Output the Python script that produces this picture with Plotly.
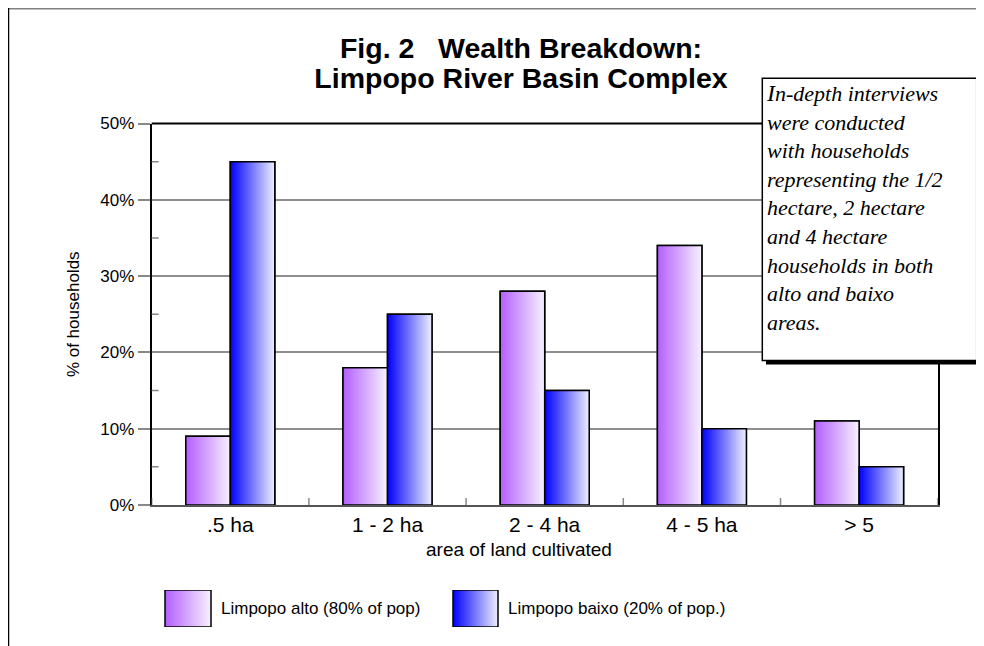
import plotly.graph_objects as go

# ---- data ----
categories = [".5 ha", "1 - 2 ha", "2 - 4 ha", "4 - 5 ha", "> 5"]
alto = [9, 18, 28, 34, 11]       # Limpopo alto (80% of pop)
baixo = [45, 25, 15, 10, 5]      # Limpopo baixo (20% of pop.)
series_names = ["Limpopo alto (80% of pop)", "Limpopo baixo (20% of pop.)"]
y_ticks = [0, 10, 20, 30, 40, 50]
y_ticktext = ["0%", "10%", "20%", "30%", "40%", "50%"]
y_minor = [5, 15, 25, 35, 45]
x_title = "area of land cultivated"
y_title = "% of households"
note_lines = ["In-depth interviews", "were conducted", "with households",
              "representing the 1/2", "hectare, 2 hectare", "and 4 hectare",
              "households in both", "alto and baixo", "areas."]

# ---- styling ----
OFF = 8                                   # page body offset of the plot div
W, H = 984 - OFF, 646 - OFF
PL, PR, PT, PB = 151.7, 937.7, 123.5, 505   # plot area (screen pixels)
BW = 0.283                                # bar width in category units
grad_alto = [[0, "#b35eff"], [1, "#f7f2ff"]]
grad_baixo = [[0, "#0000ff"], [1, "#eef0ff"]]
mid_alto = "#d6b0ff"
mid_baixo = "#8080ff"
SANS = "Liberation Sans, Arial, sans-serif"
SERIF = "Liberation Serif, Times New Roman, serif"


def px(x):
    return (x - OFF) / W


def py(y):
    return 1 - (y - OFF) / H


xs = list(range(len(categories)))
fig = go.Figure()

# bars (base)
fig.add_trace(go.Bar(x=xs, y=alto, width=BW, offset=-BW, name=series_names[0],
                     marker=dict(color=mid_alto, line=dict(color="black", width=1.5)),
                     showlegend=False))
fig.add_trace(go.Bar(x=xs, y=baixo, width=BW, offset=0, name=series_names[1],
                     marker=dict(color=mid_baixo, line=dict(color="black", width=1.5)),
                     showlegend=False))


# gradient overlay for each bar
def grad_bar(x0, x1, v, grad, name, xa="x", ya="y"):
    fig.add_trace(go.Scatter(
        x=[x0, x0, x1, x1, x0], y=[0, v, v, 0, 0], xaxis=xa, yaxis=ya,
        mode="lines", fill="toself",
        fillgradient=dict(type="horizontal", colorscale=grad),
        line=dict(color="black", width=1.5),
        name=name, showlegend=False, hoverinfo="skip"))


for i, v in zip(xs, alto):
    grad_bar(i - BW, i, v, grad_alto, series_names[0])
for i, v in zip(xs, baixo):
    grad_bar(i, i + BW, v, grad_baixo, series_names[1])

# custom legend swatches on a helper axis (screen pixel units)
grad_bar(165, 211, 1, grad_alto, series_names[0], "x2", "y2")
grad_bar(453, 498, 1, grad_baixo, series_names[1], "x2", "y2")

fig.update_layout(
    width=W, height=H,
    margin=dict(l=0, r=0, t=0, b=0),
    paper_bgcolor="white", plot_bgcolor="white",
    barmode="overlay",
    showlegend=False,
    font=dict(family=SANS, color="black"),
    title=dict(text="<b><span style='font-size:28.5px'>Fig. 2   Wealth Breakdown:</span><br>"
                    "<span style='font-size:28.5px'>Limpopo River Basin Complex</span></b>",
               x=px(521), xanchor="center", xref="container",
               y=py(58), yanchor="top", yref="container",
               font=dict(size=23, family=SANS, color="black")),
    xaxis=dict(domain=[px(PL), px(PR)], range=[-0.5, len(categories) - 0.5],
               tickmode="array", tickvals=xs, ticktext=categories,
               ticks="", tickfont=dict(size=21),
               showline=True, linecolor="#555555", linewidth=2,
               showgrid=False, zeroline=False, automargin=False),
    yaxis=dict(domain=[py(PB), py(PT)], range=[0, 50],
               tickmode="array", tickvals=y_ticks, ticktext=y_ticktext,
               ticks="outside", ticklen=12, tickcolor="#888888", tickwidth=1.5,
               tickfont=dict(size=17),
               showline=True, linecolor="black", linewidth=2, mirror=True,
               showgrid=True, gridcolor="#8f8f8f", gridwidth=1.5,
               zeroline=False, automargin=False,
               title=dict(text=y_title, font=dict(size=17), standoff=16)),
    xaxis2=dict(domain=[0, 1], range=[OFF, OFF + W], visible=False, anchor="y2",
                fixedrange=True),
    yaxis2=dict(domain=[py(627), py(590)], range=[0, 1], visible=False,
                anchor="x2", fixedrange=True),
)

shapes = []
# page frame (top gray rule, left black rule)
shapes.append(dict(type="line", xref="paper", yref="paper", x0=0, x1=1,
                   y0=1, y1=1, line=dict(color="#808080", width=3)))
shapes.append(dict(type="line", xref="paper", yref="paper", x0=0, x1=0,
                   y0=1, y1=0, line=dict(color="black", width=2.5)))
# plot top border
shapes.append(dict(type="line", xref="x domain", yref="y domain", x0=0, x1=1,
                   y0=1, y1=1, line=dict(color="black", width=2)))
# category boundary ticks crossing the x axis
for b in [i - 0.5 for i in range(len(categories) + 1)]:
    shapes.append(dict(type="line", xref="x", yref="y", ysizemode="pixel", yanchor=0,
                       x0=b, x1=b, y0=-6, y1=7,
                       line=dict(color="#888888", width=1.5)))
# minor y ticks crossing the y axis
for m in y_minor:
    shapes.append(dict(type="line", xref="x", yref="y", xsizemode="pixel", xanchor=-0.5,
                       x0=-8, x1=7, y0=m, y1=m,
                       line=dict(color="#888888", width=1.5)))
# note box with shadow
shapes.append(dict(type="rect", xref="paper", yref="paper", layer="above",
                   x0=px(766), x1=px(980.5), y0=py(82), y1=py(364.5),
                   fillcolor="black", line=dict(width=0)))
shapes.append(dict(type="rect", xref="paper", yref="paper", layer="above",
                   x0=px(762.3), x1=px(976.7), y0=py(78.3), y1=py(360.5),
                   fillcolor="white", line=dict(color="black", width=1.5)))
fig.update_layout(shapes=shapes)

note_text = "<br>".join(note_lines)
note_text = "<span style='font-size:24px'>I</span>" + note_text[1:]
annotations = [
    dict(text="<i>" + note_text + "</i>", xref="paper", yref="paper",
         x=px(764), y=py(77.5), xanchor="left", yanchor="top", align="left",
         showarrow=False, font=dict(family=SERIF, size=22, color="black")),
    dict(text=x_title, xref="paper", yref="paper",
         x=px(519), y=py(549), xanchor="center", yanchor="middle",
         showarrow=False, font=dict(size=19, color="black")),
    dict(text=series_names[0], xref="paper", yref="paper",
         x=px(219), y=py(608.5), xanchor="left", yanchor="middle",
         showarrow=False, font=dict(size=17, color="black")),
    dict(text=series_names[1], xref="paper", yref="paper",
         x=px(506), y=py(608.5), xanchor="left", yanchor="middle",
         showarrow=False, font=dict(size=17, color="black")),
]
fig.update_layout(annotations=annotations)

fig.write_html("out.html")
